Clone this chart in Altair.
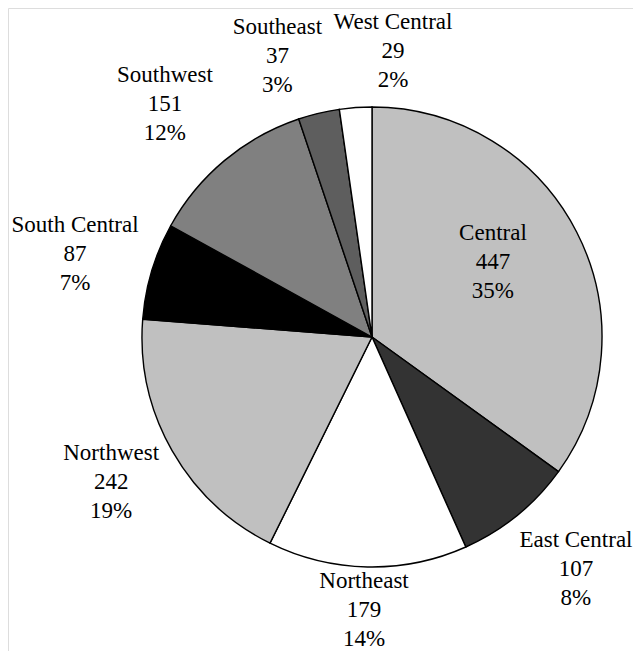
import math
import altair as alt
import pandas as pd

regions = ["Central", "East Central", "Northeast", "Northwest",
           "South Central", "Southwest", "Southeast", "West Central"]
counts = [447, 107, 179, 242, 87, 151, 37, 29]
colors = ["#c0c0c0", "#333333", "#ffffff", "#c0c0c0",
          "#000000", "#808080", "#5e5e5e", "#ffffff"]

total = sum(counts)
pcts = [round(c / total * 100) for c in counts]

# label placement style: radial distance (px) and angular nudge (deg) from slice middle
label_radius = {"Central": 159.5, "East Central": 287.8, "Northeast": 244.1, "Northwest": 285.6,
                "South Central": 317.4, "Southwest": 333.9, "Southeast": 324.2, "West Central": 315.7}
label_nudge = {"Central": -13.6, "East Central": -6.0, "Northeast": 0.75, "Northwest": 5.6,
               "South Central": 4.0, "Southwest": 1.5, "Southeast": -3.6, "West Central": 7.9}

rows = []
cum = 0
for i, (r, c, p) in enumerate(zip(regions, counts, pcts)):
    mid = (cum + c / 2) / total * 360
    cum += c
    ang = (mid + label_nudge[r]) % 360
    rows.append({"region": r, "count": c, "idx": i,
                 "label": f"{r}\n{c}\n{p}%",
                 "lab_theta": math.radians(ang),
                 "lab_r": label_radius[r]})
df = pd.DataFrame(rows)

CX, CY = 364, 329

base = alt.Chart(df)

pie = base.mark_arc(outerRadius=230, stroke="#000000", strokeWidth=1.4).encode(
    theta=alt.Theta("count:Q", stack=True),
    order=alt.Order("idx:Q"),
    color=alt.Color("region:N", scale=alt.Scale(domain=regions, range=colors), legend=None),
    x=alt.value(CX),
    y=alt.value(CY),
)

labels = base.mark_text(font="Liberation Serif", fontSize=23, color="#000000",
                        lineBreak="\n", lineHeight=29, align="center",
                        baseline="middle").encode(
    theta=alt.Theta("lab_theta:Q", scale=None),
    radius=alt.Radius("lab_r:Q", scale=None),
    text="label:N",
    x=alt.value(CX),
    y=alt.value(CY),
)

chart = alt.layer(pie, labels).resolve_scale(theta="independent", radius="independent").properties(
    width=625, height=643, padding=0,
    autosize=alt.AutoSizeParams(type="none"),
).configure_view(stroke=None).configure(background="#ffffff")

chart.save("out.html", embed_options={"renderer": "svg", "actions": False})
